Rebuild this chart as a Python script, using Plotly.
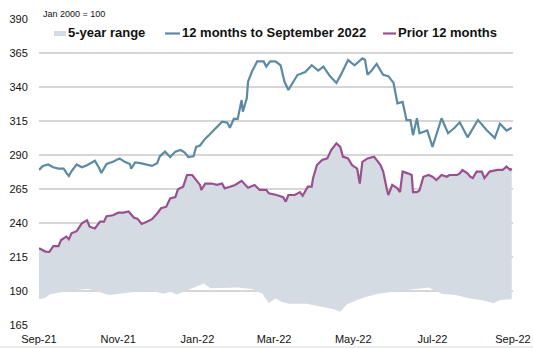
import plotly.graph_objects as go

# ---------------- data ----------------
blue_dates = ["2021-09-01","2021-09-04","2021-09-08","2021-09-12","2021-09-16","2021-09-20","2021-09-22","2021-09-24","2021-09-26","2021-09-30",
              "2021-10-04","2021-10-08","2021-10-14","2021-10-17","2021-10-19","2021-10-23","2021-10-28","2021-11-02","2021-11-06","2021-11-10",
              "2021-11-11","2021-11-14","2021-11-18","2021-11-23","2021-11-27","2021-12-01","2021-12-03","2021-12-07","2021-12-11","2021-12-15",
              "2021-12-19","2021-12-22","2021-12-25","2021-12-29","2021-12-31","2022-01-03","2022-01-07","2022-01-10","2022-01-14","2022-01-20",
              "2022-01-24","2022-01-26","2022-01-29","2022-02-01","2022-02-04","2022-02-05","2022-02-08","2022-02-09","2022-02-12","2022-02-16",
              "2022-02-21","2022-02-23","2022-02-26","2022-03-02","2022-03-06","2022-03-09","2022-03-12","2022-03-16","2022-03-19","2022-03-25",
              "2022-03-30","2022-04-04","2022-04-08","2022-04-13","2022-04-18","2022-04-22","2022-04-27","2022-05-02","2022-05-08","2022-05-10",
              "2022-05-12","2022-05-15","2022-05-19","2022-05-24","2022-05-28","2022-06-01","2022-06-04","2022-06-08","2022-06-11","2022-06-14",
              "2022-06-16","2022-06-19","2022-06-21","2022-06-27","2022-07-01","2022-07-08","2022-07-13","2022-07-18","2022-07-22","2022-07-28",
              "2022-08-01","2022-08-05","2022-08-12","2022-08-18","2022-08-22","2022-08-27","2022-08-31"]
blue_vals = [279, 282, 283, 281, 280, 280, 277, 274.5, 278, 283,
             281, 282.5, 285.7, 281, 276.8, 283.5, 285, 287.5, 285, 283.4,
             280, 284.5, 284, 283, 282, 284, 289, 292.5, 288.5, 292.5,
             293.7, 292, 288.5, 289, 296, 297, 302, 304.7, 308.4, 314.5,
             313.8, 310, 316.5, 316.5, 330.4, 321.9, 331.6, 344, 351.4, 358.8,
             358.8, 355, 358.8, 358.8, 356, 344, 337.8, 344, 348.8, 351,
             356, 352, 355, 348, 343, 350, 359.8, 356, 361, 360,
             349, 352, 357, 349, 348, 343, 328, 329, 315.7, 315.7,
             304.6, 317, 306, 308, 296, 317, 306, 310, 314, 303,
             309, 315.7, 308, 302.5, 313, 308, 310]

prior_dates = ["2021-09-01","2021-09-06","2021-09-09","2021-09-12","2021-09-16","2021-09-18","2021-09-22","2021-09-24","2021-09-26","2021-09-30",
               "2021-10-04","2021-10-08","2021-10-10","2021-10-14","2021-10-18","2021-10-21","2021-10-23","2021-10-28","2021-11-01","2021-11-05",
               "2021-11-09","2021-11-13","2021-11-16","2021-11-19","2021-11-23","2021-11-27","2021-12-01","2021-12-04","2021-12-08","2021-12-11",
               "2021-12-15","2021-12-17","2021-12-21","2021-12-24","2021-12-28","2021-12-30","2022-01-03","2022-01-04","2022-01-07","2022-01-12",
               "2022-01-16","2022-01-20","2022-01-22","2022-01-26","2022-01-30","2022-02-04","2022-02-09","2022-02-14","2022-02-18","2022-02-23",
               "2022-02-25","2022-03-03","2022-03-08","2022-03-10","2022-03-12","2022-03-17","2022-03-21","2022-03-23","2022-03-27","2022-03-30",
               "2022-03-31","2022-04-03","2022-04-07","2022-04-11","2022-04-14","2022-04-18","2022-04-21","2022-04-23","2022-04-27","2022-04-30",
               "2022-05-04","2022-05-06","2022-05-08","2022-05-12","2022-05-17","2022-05-22","2022-05-24","2022-05-27","2022-05-28","2022-05-31",
               "2022-06-04","2022-06-06","2022-06-08","2022-06-12","2022-06-15","2022-06-16","2022-06-19","2022-06-21","2022-06-24","2022-06-28",
               "2022-07-01","2022-07-04","2022-07-08","2022-07-12","2022-07-14","2022-07-20","2022-07-22","2022-07-24","2022-07-28","2022-07-30",
               "2022-08-01","2022-08-04","2022-08-08","2022-08-10","2022-08-14","2022-08-20","2022-08-24","2022-08-27","2022-08-30","2022-08-31"]
prior_vals = [221.4, 219, 218.8, 223, 223, 227.5, 230, 228, 232.4, 234,
              239.7, 242, 237.3, 236, 241, 241, 245, 245.7, 247.6, 247.6,
              248.5, 244, 243, 239.3, 241, 242.8, 247, 250.8, 252, 258,
              259, 264.8, 266.7, 275.3, 275.3, 273, 268, 264.3, 269, 269,
              268, 269, 265.5, 266.7, 268, 271, 266, 268, 264.3, 264.3,
              261.8, 260.6, 259, 255.7, 260.6, 260.6, 262.7, 260, 266.7, 266.7,
              272.8, 282.6, 286.3, 287.5, 293.7, 298.6, 296, 288.8, 287.5, 282.6,
              280, 269, 285, 287.5, 288.8, 282.6, 278, 264.3, 260.6, 268,
              265.5, 262.7, 277.8, 276.5, 275.3, 262.7, 262.7, 264, 274, 275.3,
              274, 271.6, 275.3, 274, 275.3, 275.3, 276.5, 279, 276.5, 274,
              273, 277.8, 277.8, 273, 277.8, 279, 279, 281.5, 279, 280]

range_low_dates = ["2021-09-01","2021-09-05","2021-09-10","2021-09-18","2021-09-29","2021-10-09","2021-10-17","2021-10-25","2021-11-02","2021-11-15",
                   "2021-11-25","2021-12-06","2021-12-11","2021-12-16","2021-12-21","2021-12-29","2022-01-06","2022-01-11","2022-01-22","2022-02-01",
                   "2022-02-12","2022-02-20","2022-02-25","2022-03-02","2022-03-07","2022-03-13","2022-03-26","2022-04-05","2022-04-16","2022-04-21",
                   "2022-04-26","2022-05-04","2022-05-12","2022-05-20","2022-05-30","2022-06-12","2022-06-28","2022-07-08","2022-07-19","2022-07-29",
                   "2022-08-09","2022-08-17","2022-08-22","2022-08-31"]
range_low_vals = [183.9, 184.6, 187.8, 189, 190.7, 191.5, 189.4, 187, 188, 189.4,
                  190.7, 188, 189.4, 187.5, 189.4, 192.6, 195.6, 192, 192.6, 192.6,
                  191.5, 188, 181, 184.6, 182, 180.6, 180.6, 178.6, 176.6, 174.8,
                  180, 183.4, 186, 188, 189.4, 190.7, 192.6, 188, 187, 184.6,
                  183, 181, 183.4, 184]

# upper edge of 5-year range follows the prior-12-months series
range_high_dates = prior_dates
range_high_vals = prior_vals

y_ticks = [165, 190, 215, 240, 265, 290, 315, 340, 365, 390]
legend_labels = ["5-year range", "12 months to September 2022", "Prior 12 months"]

# ---------------- styles ----------------
FONT = "Liberation Sans, Arial, sans-serif"
BLUE = "#5b8ba3"
PURPLE = "#9a4f8f"
FILL = "#d5dbe3"
GRID = "#d6d6d6"

W, H = 533, 348
L, R, T, B = 39, 20, 19, 23
PW, PH = W - L - R, H - T - B


def px_x(p):
    return (p - L) / PW


def px_y(p):
    return (H - B - p) / PH


fig = go.Figure()

fig.add_trace(go.Scatter(
    x=range_low_dates + range_high_dates[::-1],
    y=range_low_vals + range_high_vals[::-1],
    fill="toself", fillcolor=FILL, mode="lines",
    line=dict(width=0, color=FILL), name=legend_labels[0],
    showlegend=False, hoverinfo="skip"))

fig.add_trace(go.Scatter(
    x=blue_dates, y=blue_vals, mode="lines",
    line=dict(color=BLUE, width=2.2), name=legend_labels[1], showlegend=False))

fig.add_trace(go.Scatter(
    x=prior_dates, y=prior_vals, mode="lines",
    line=dict(color=PURPLE, width=2.2), name=legend_labels[2], showlegend=False))

# custom legend
ly = 33.5
shapes = [
    dict(type="rect", xref="paper", yref="paper",
         x0=px_x(54), x1=px_x(66), y0=px_y(36), y1=px_y(31),
         fillcolor=FILL, line=dict(width=0)),
    dict(type="line", xref="paper", yref="paper",
         x0=px_x(165), x1=px_x(180), y0=px_y(ly), y1=px_y(ly),
         line=dict(color=BLUE, width=2.2)),
    dict(type="line", xref="paper", yref="paper",
         x0=px_x(383), x1=px_x(396), y0=px_y(ly), y1=px_y(ly),
         line=dict(color=PURPLE, width=2.2)),
    dict(type="line", xref="paper", yref="paper",
         x0=px_x(0), x1=px_x(W), y0=px_y(347), y1=px_y(347),
         line=dict(color="#dcdcdc", width=1)),
]
annotations = []
for text, xs in zip(legend_labels, [66, 180, 396]):
    annotations.append(dict(
        text="<b>%s</b>" % text, xref="paper", yref="paper",
        x=px_x(xs), y=px_y(33), xanchor="left", yanchor="middle",
        showarrow=False, font=dict(family=FONT, size=13, color="#111111")))
annotations.append(dict(
    text="Jan 2000 = 100", xref="paper", yref="paper",
    x=px_x(41), y=px_y(14), xanchor="left", yanchor="middle",
    showarrow=False, font=dict(family=FONT, size=9, color="#111111")))

fig.update_layout(
    width=W, height=H,
    margin=dict(l=L, r=R, t=T, b=B, pad=0, autoexpand=False),
    paper_bgcolor="white", plot_bgcolor="white",
    font=dict(family=FONT, size=11, color="#111111"),
    shapes=shapes, annotations=annotations,
    showlegend=False,
)
fig.update_xaxes(
    type="date", range=["2021-09-01", "2022-09-01"],
    tick0="2021-09-01", dtick="M2", tickformat="%b-%y",
    showgrid=False, zeroline=False, showline=False, automargin=False,
    ticks="outside", ticklen=4, tickcolor="rgba(0,0,0,0)",
    tickfont=dict(family=FONT, size=11, color="#111111"),
)
fig.update_yaxes(
    range=[165, 390], tickvals=y_ticks,
    showgrid=True, gridcolor=GRID, gridwidth=1.5,
    zeroline=False, showline=False, automargin=False,
    ticks="outside", ticklen=8, tickcolor="rgba(0,0,0,0)",
    tickfont=dict(family=FONT, size=11, color="#111111"),
)

fig.write_html("out.html")
